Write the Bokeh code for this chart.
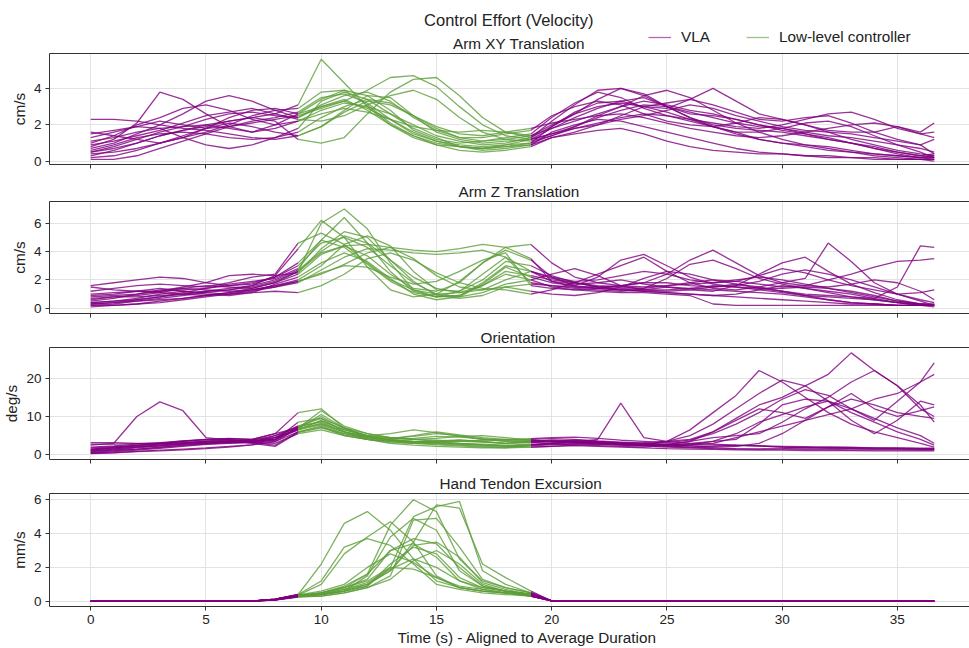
from bokeh.plotting import figure
from bokeh.models import Range1d, FixedTicker, Title, Legend, LegendItem, Label, LinearAxis
from bokeh.layouts import column
from bokeh.embed import file_html
from bokeh.resources import INLINE

# ---------------- data ----------------
time_s = [0, 1, 2, 3, 4, 5, 6, 7, 8, 9, 10, 11, 12, 13, 14, 15, 16, 17, 18, 19.1,
          20, 21, 22, 23, 24, 25, 26, 27, 28, 29, 30, 31, 32, 33, 34, 35, 36, 36.6]
llc_start = 9
llc_end = 19.1

arm_xy = [
    [0.8,1.2,2.1,3.8,3.4,2.6,1.9,1.6,2.0,2.6, 3.4,3.9,3.6,2.8,1.7,1.2,1.0,1.1,1.3,1.5, 2.4,3.2,3.8,3.5,2.9,2.5,2.2,1.9,1.6,1.2,1.0,0.8,0.6,0.5,0.4,0.3,0.2,0.2],
    [0.3,0.6,1.0,1.4,1.7,2.0,2.2,2.4,2.6,3.1, 5.6,4.3,3.0,2.0,1.3,0.9,0.8,0.7,0.9,1.2, 1.8,2.2,2.6,3.0,3.3,3.1,2.8,2.6,2.3,2.0,1.8,1.5,1.3,1.0,0.7,0.4,0.2,0.1],
    [1.5,1.7,1.9,2.2,2.0,1.8,1.9,2.1,2.3,2.5, 2.9,3.3,3.9,4.6,4.7,4.1,3.0,2.0,1.4,1.2, 1.5,1.9,2.4,2.8,3.1,3.0,2.7,2.4,2.1,1.9,1.8,1.6,1.4,1.3,1.1,0.9,0.7,0.5],
    [0.5,0.7,1.0,1.4,1.7,1.9,2.2,2.4,2.2,1.2, 1.0,1.3,2.6,3.8,4.5,4.6,3.6,2.4,1.6,1.3, 1.9,2.6,3.4,4.0,3.7,3.0,2.6,2.5,2.3,2.0,1.7,1.5,1.2,1.0,0.8,0.5,0.3,0.4],
    [2.3,2.3,2.2,2.0,1.8,1.7,1.5,1.3,1.2,1.4, 1.9,2.8,3.6,3.5,2.5,1.6,1.2,1.0,1.1,1.2, 1.5,1.8,2.1,2.4,2.6,2.5,2.3,2.1,1.9,1.8,2.0,2.3,2.6,2.7,2.3,1.8,1.5,1.3],
    [0.1,0.1,0.3,0.7,1.1,1.5,1.9,2.2,2.4,2.7, 3.5,3.7,3.2,2.3,1.5,1.1,0.9,0.8,0.9,1.0, 1.4,1.9,2.5,3.0,3.6,3.9,3.5,2.8,2.1,1.6,1.2,0.9,0.7,0.5,0.3,0.2,0.1,0.1],
    [1.0,1.4,2.0,2.4,2.9,3.1,2.8,2.3,2.0,2.2, 2.8,3.2,3.0,2.6,2.0,1.4,1.1,0.9,1.0,1.3, 2.2,3.1,3.9,4.0,3.6,3.0,2.4,1.9,1.5,1.2,1.0,0.9,0.8,0.6,0.4,0.3,0.2,0.3],
    [0.6,0.9,1.3,1.5,1.6,1.5,1.3,1.2,1.3,1.6, 2.4,3.0,3.4,3.2,2.5,1.8,1.3,1.1,1.2,1.4, 2.0,2.6,3.0,3.2,3.0,2.7,2.3,1.9,1.6,1.6,1.8,2.1,2.2,1.9,1.4,0.9,0.5,0.2],
    [1.3,1.6,1.9,1.8,1.3,0.9,0.7,0.9,1.3,1.8, 3.3,3.8,3.4,2.6,1.8,1.3,0.8,0.6,0.7,0.9, 1.6,2.0,2.3,2.2,1.9,1.6,1.3,1.0,0.7,0.5,0.4,0.3,0.2,0.2,0.1,0.1,0.1,0.0],
    [0.4,0.5,0.7,1.0,1.3,1.6,2.0,2.5,2.8,2.9, 3.8,3.9,3.1,2.1,1.4,1.0,0.8,0.7,0.8,1.0, 1.9,2.7,3.2,3.3,3.0,2.9,3.4,4.0,3.3,2.6,2.3,2.0,1.7,1.6,1.6,1.9,1.5,1.6],
    [0.9,1.1,1.4,1.7,2.1,2.5,2.7,2.9,2.6,2.3, 2.2,2.5,3.1,3.6,3.9,3.4,2.4,1.6,1.2,1.1, 1.4,1.8,2.0,2.3,2.5,2.8,3.1,2.9,2.5,2.2,1.9,1.7,1.6,1.5,1.3,1.1,0.9,0.4],
    [1.6,1.4,1.2,1.0,1.3,1.8,2.4,2.8,2.9,2.6, 3.0,3.3,2.9,2.3,1.6,1.1,0.8,0.7,0.8,0.9, 1.3,1.6,2.0,2.5,3.0,3.2,3.4,3.1,2.7,2.3,2.2,2.4,2.5,2.1,1.6,1.2,0.9,1.2],
    [0.2,0.3,0.6,1.0,1.4,1.8,2.1,1.9,1.6,1.4, 1.9,2.7,3.3,3.1,2.5,1.9,1.5,1.4,1.6,1.8, 2.1,2.3,2.5,2.6,2.4,2.1,1.8,1.6,1.4,1.3,1.4,1.6,1.8,2.0,2.1,1.9,1.6,2.1],
    [0.7,1.0,1.5,2.0,2.6,3.3,3.6,3.3,2.8,2.4, 3.0,3.4,2.8,2.0,1.4,0.9,0.6,0.5,0.6,0.8, 1.3,1.5,1.7,1.8,1.5,1.1,0.8,0.6,0.5,0.4,0.4,0.3,0.3,0.2,0.2,0.1,0.1,0.1],
    [0.5,0.8,1.2,1.6,1.9,2.3,2.6,2.7,2.5,2.4, 3.1,3.6,3.8,3.3,2.4,1.7,1.3,1.3,1.5,1.7, 2.5,3.0,3.3,3.1,2.6,2.2,2.0,1.9,2.1,2.4,2.3,2.0,1.6,1.2,0.9,0.6,0.4,0.3],
    [1.1,1.3,1.6,1.8,1.9,2.0,1.8,1.6,1.8,2.2, 2.6,2.9,2.7,2.3,1.9,1.7,1.6,1.7,1.6,1.4, 1.8,2.4,2.9,3.3,3.5,3.0,2.4,2.0,1.8,1.7,1.6,1.4,1.2,1.0,0.7,0.5,0.3,0.2],
]

arm_z = [
    [0.3,0.4,0.6,0.8,1.0,1.2,1.3,1.5,1.9,2.6, 6.0,7.0,5.6,3.2,1.3,0.8,1.2,2.4,3.6,1.8, 1.6,1.4,1.3,1.2,1.3,1.5,1.4,1.3,1.2,1.1,1.0,0.8,0.6,0.4,0.3,0.2,0.2,0.2],
    [1.6,1.8,2.0,2.2,2.1,1.8,1.6,1.7,2.2,3.0, 4.6,5.0,4.3,3.0,1.8,1.0,0.8,1.1,1.7,2.0, 2.4,2.8,2.3,1.6,1.3,1.2,1.3,1.5,1.7,1.5,1.2,0.9,0.6,0.4,0.3,0.2,0.2,0.2],
    [0.1,0.2,0.3,0.5,0.7,0.9,1.1,1.4,1.8,2.4, 3.8,4.4,4.5,4.3,4.1,4.0,4.2,4.5,4.3,4.5, 3.2,2.2,1.8,1.6,1.5,1.6,1.8,2.0,1.9,1.7,1.5,1.6,2.0,2.4,2.9,3.3,3.4,3.5],
    [0.8,0.9,1.0,1.2,1.5,1.8,2.3,2.4,2.3,2.5, 4.2,5.4,5.0,3.4,1.9,0.9,0.7,0.9,1.5,1.2, 1.0,0.9,1.1,1.5,2.1,2.6,2.4,2.0,1.7,1.4,1.2,1.0,0.9,0.8,0.6,0.4,0.2,0.1],
    [0.5,0.7,1.0,1.3,1.4,1.3,1.2,1.3,1.6,2.0, 3.0,4.5,5.1,4.4,2.6,1.3,1.2,2.0,3.3,3.0, 2.3,1.8,1.5,1.4,1.3,1.3,1.4,1.6,1.5,1.3,1.1,0.9,0.8,0.7,0.6,0.4,0.3,0.3],
    [0.2,0.3,0.5,0.7,0.9,1.1,1.3,1.6,2.3,4.2, 6.2,5.0,2.9,1.3,0.8,1.0,1.9,3.2,4.1,3.4, 2.2,1.6,1.4,1.3,1.4,1.6,1.7,1.8,2.0,2.2,2.0,1.7,1.4,1.1,0.8,0.5,0.3,0.2],
    [1.0,1.1,1.2,1.2,1.3,1.4,1.6,1.8,2.2,3.2, 4.8,4.3,3.1,1.9,1.1,0.8,0.9,1.8,3.0,2.6, 1.9,1.7,1.8,2.0,1.7,1.5,1.3,1.2,1.6,2.4,3.2,3.6,2.6,1.7,1.1,0.6,0.3,0.2],
    [0.4,0.5,0.6,0.8,1.1,1.4,1.7,1.9,2.1,2.8, 4.8,6.4,4.6,2.6,1.2,0.8,0.9,1.6,2.6,2.3, 2.0,1.8,1.6,1.5,1.4,2.1,3.1,3.4,2.8,2.1,1.7,1.4,1.2,1.0,0.7,0.4,0.2,0.2],
    [1.5,1.3,1.2,1.1,1.0,0.9,1.0,1.3,1.6,1.9, 2.4,3.1,3.9,4.3,3.5,2.3,1.5,1.3,1.5,1.7, 1.6,1.5,1.4,1.3,1.2,1.1,1.0,0.9,0.8,0.7,0.6,0.5,0.4,0.3,0.3,0.2,0.2,0.2],
    [0.6,0.8,0.9,1.1,1.4,1.6,1.5,1.4,1.8,2.6, 3.9,4.4,3.7,2.4,1.4,1.2,1.8,3.2,4.3,3.5, 1.9,1.5,1.5,1.6,1.8,1.8,1.6,1.5,1.6,1.9,2.4,2.7,2.4,2.0,1.5,1.0,0.5,0.2],
    [0.3,0.4,0.5,0.6,0.7,0.9,1.1,1.3,1.5,1.8, 2.7,3.6,4.2,4.1,3.9,3.8,3.9,4.1,3.6,2.6, 2.2,1.9,2.0,2.3,2.6,2.4,2.0,1.8,1.9,2.3,2.8,2.5,2.0,1.6,1.3,1.0,1.1,1.3],
    [1.2,1.4,1.6,1.7,1.6,1.5,1.8,2.2,2.4,4.6, 5.3,4.5,3.2,2.0,1.3,1.0,1.1,1.6,2.4,2.0, 1.5,1.3,1.2,1.1,1.1,1.0,0.9,0.3,0.2,0.2,0.2,0.2,0.2,0.2,0.2,0.2,0.2,0.2],
    [0.2,0.2,0.3,0.4,0.6,0.8,1.0,1.1,1.2,1.1, 1.6,2.4,3.5,3.9,3.4,2.5,1.8,1.4,1.3,1.0, 1.3,1.8,2.4,3.0,3.6,2.6,1.8,1.4,1.3,1.5,1.8,2.1,4.6,3.3,1.8,1.0,0.6,0.4],
    [0.9,1.0,1.2,1.4,1.2,1.0,0.9,1.1,1.7,2.2, 3.2,3.9,3.3,2.1,1.0,0.6,0.8,1.7,2.9,2.2, 1.8,1.6,2.2,3.4,3.8,3.0,2.2,1.7,1.5,1.4,1.4,1.5,1.4,1.2,0.9,0.5,0.3,0.2],
    [0.4,0.5,0.7,1.0,1.2,1.1,1.0,1.2,1.5,1.9, 2.5,3.0,2.9,2.2,1.7,1.9,2.6,3.4,3.9,1.6, 1.4,1.3,1.4,1.6,1.8,2.4,3.4,4.1,3.2,2.3,1.8,1.6,1.5,1.7,2.0,1.8,1.2,0.6],
    [0.7,0.8,0.8,0.9,1.0,1.2,1.4,1.6,2.0,2.7, 4.0,5.1,4.6,3.4,2.2,1.4,1.1,1.3,2.0,2.6, 2.1,1.8,1.5,1.3,1.2,1.1,1.0,0.9,1.0,1.3,1.6,1.4,1.1,0.8,0.7,1.5,4.4,4.3],
]

orientation = [
    [2.5,3.0,10.0,13.8,11.5,4.5,3.8,3.5,4.5,6.5, 9.0,6.5,5.0,4.5,4.0,3.8,3.5,3.3,3.0,3.2, 3.5,3.6,3.4,3.2,3.0,2.8,2.6,2.5,2.4,2.3,2.2,2.1,2.0,1.9,1.8,1.8,1.7,1.7],
    [1.0,1.5,2.0,2.5,3.0,3.3,3.5,3.8,5.0,7.0, 11.5,7.5,5.5,4.5,4.0,3.5,3.0,2.8,2.5,2.8, 3.0,3.3,4.0,13.5,4.5,3.5,3.0,2.8,2.5,2.3,2.0,1.9,1.8,1.7,1.6,1.6,1.5,1.5],
    [0.3,0.5,0.8,1.0,1.3,1.6,2.0,2.6,4.5,7.5, 8.5,6.0,4.5,3.8,3.4,3.2,3.0,2.6,2.3,2.6, 3.0,3.2,3.3,3.0,2.8,3.5,5.0,8.0,12.0,16.0,19.5,18.0,14.0,11.0,8.5,6.0,4.0,2.5],
    [1.5,2.0,2.5,3.0,3.5,4.0,4.2,4.0,5.5,11.0, 12.0,7.0,4.5,4.2,4.8,5.5,5.0,4.0,3.5,3.5, 3.8,3.6,3.3,3.0,3.2,3.5,4.0,6.0,9.0,12.0,11.0,9.5,12.5,16.0,12.0,10.0,11.5,12.5],
    [3.2,3.2,3.0,3.0,3.2,3.5,3.8,4.0,5.5,7.0, 10.5,7.0,5.0,4.0,3.5,3.3,3.5,3.8,4.0,4.2, 4.5,4.6,4.3,3.8,3.5,3.2,3.8,5.5,8.0,11.0,14.5,17.0,15.5,12.0,9.0,14.0,19.0,24.0],
    [0.8,1.2,1.5,2.0,2.5,3.0,3.3,3.2,2.5,6.0, 7.5,5.0,4.0,3.0,2.5,2.2,2.0,1.8,1.8,2.5, 3.0,3.2,3.0,2.8,2.5,2.3,2.0,1.8,1.6,1.5,1.5,1.4,1.4,1.3,1.3,1.3,1.2,1.2],
    [1.2,1.8,2.4,3.0,3.6,4.0,4.3,4.0,4.5,6.8, 8.0,6.0,4.8,4.2,5.0,6.0,5.2,4.5,4.0,3.8, 3.5,3.8,3.5,3.0,2.6,2.8,3.5,4.5,5.0,5.5,8.5,12.0,15.0,19.0,22.0,18.0,13.0,8.5],
    [2.0,2.3,2.8,3.2,3.6,3.9,4.0,3.5,3.8,7.2, 8.8,6.5,5.0,5.5,6.5,5.8,4.8,4.0,3.6,3.6, 3.5,3.3,3.0,2.7,2.5,2.3,2.5,3.0,4.5,6.0,7.5,9.0,10.5,12.0,14.5,16.0,19.0,21.0],
    [1.0,1.3,1.8,2.3,2.8,3.0,3.2,3.4,4.0,6.5, 7.8,5.5,4.2,3.8,3.5,3.2,2.8,2.5,2.3,2.6, 2.8,2.6,2.4,2.2,2.0,2.5,3.5,6.0,9.5,13.0,15.0,18.0,21.0,26.6,22.0,18.0,12.0,10.0],
    [0.5,0.8,1.2,1.7,2.2,2.7,3.0,3.2,5.0,7.5, 9.5,6.0,4.0,3.2,3.0,3.3,3.8,3.5,3.0,3.3, 3.4,3.2,3.0,2.7,2.5,3.5,6.5,11.0,15.5,22.0,19.0,15.0,11.0,8.0,6.0,4.5,3.0,2.0],
    [1.5,1.8,2.2,2.6,3.0,3.3,3.5,3.3,3.0,5.5, 6.5,5.0,4.0,3.5,3.2,3.0,2.8,2.5,2.2,2.0, 2.2,2.5,2.7,2.5,2.3,2.0,1.8,1.6,1.5,1.5,1.6,1.8,2.0,1.9,1.8,1.7,1.6,1.6],
    [0.6,1.0,1.4,1.9,2.4,2.8,3.1,3.3,3.5,6.0, 7.2,5.5,4.5,4.0,4.3,4.8,4.6,4.2,3.8,4.0, 4.2,4.0,3.6,3.3,3.0,2.6,2.3,2.0,2.2,3.0,5.5,9.0,12.5,14.5,13.0,11.0,10.0,9.5],
    [2.8,2.8,2.9,3.0,3.1,3.3,3.5,3.7,4.0,6.8, 8.2,6.0,4.6,3.8,3.2,2.8,2.5,2.2,2.0,2.3, 2.6,2.8,3.0,2.8,2.5,2.2,2.0,2.2,2.5,2.3,2.0,1.8,1.7,1.6,1.5,1.5,1.4,1.4],
    [1.8,2.1,2.4,2.8,3.2,3.6,3.9,3.0,2.2,5.8, 7.0,5.2,4.0,3.5,3.3,3.6,3.9,3.4,3.0,3.4, 3.6,3.4,3.2,3.0,2.8,2.7,2.6,3.5,5.5,8.5,10.5,12.5,14.0,12.0,9.5,7.0,5.0,3.0],
    [0.4,0.6,0.9,1.2,1.5,1.8,2.2,2.6,3.4,7.0, 10.0,6.8,4.8,3.5,3.0,2.6,2.3,2.0,1.8,2.0, 2.2,2.4,2.2,2.0,1.8,1.6,1.5,1.4,1.3,1.2,1.2,1.1,1.1,1.1,1.0,1.0,1.0,1.0],
    [1.3,1.6,2.0,2.3,2.7,3.1,3.4,3.6,3.9,8.5, 9.5,7.0,5.5,4.5,4.0,4.3,4.8,5.0,4.5,3.8, 3.4,3.0,2.8,2.5,2.3,2.5,3.0,3.5,4.0,8.0,13.0,14.5,14.0,9.0,5.5,9.0,14.0,13.0],
]

hand_tendon = [
    [0,0,0,0,0,0,0,0.01,0.12,0.40, 2.2,4.6,5.3,4.2,2.5,1.2,0.8,0.6,0.5,0.4, 0.02,0,0,0,0,0,0,0,0,0,0,0,0,0,0,0,0,0],
    [0,0,0,0,0,0,0,0.01,0.10,0.35, 0.5,0.8,1.6,4.5,6.0,5.3,2.5,1.2,0.8,0.5, 0.02,0,0,0,0,0,0,0,0,0,0,0,0,0,0,0,0,0],
    [0,0,0,0,0,0,0,0.01,0.08,0.30, 0.4,0.6,0.9,2.0,5.0,5.6,5.9,1.8,1.0,0.5, 0.02,0,0,0,0,0,0,0,0,0,0,0,0,0,0,0,0,0],
    [0,0,0,0,0,0,0,0.01,0.10,0.32, 0.45,0.7,1.0,1.8,3.5,5.7,5.5,2.2,1.4,0.6, 0.02,0,0,0,0,0,0,0,0,0,0,0,0,0,0,0,0,0],
    [0,0,0,0,0,0,0,0.01,0.12,0.38, 0.4,0.6,1.5,3.8,4.9,4.2,1.8,0.9,0.6,0.4, 0.02,0,0,0,0,0,0,0,0,0,0,0,0,0,0,0,0,0],
    [0,0,0,0,0,0,0,0.01,0.11,0.36, 1.0,2.8,3.8,4.7,3.5,1.5,0.8,0.6,0.5,0.3, 0.02,0,0,0,0,0,0,0,0,0,0,0,0,0,0,0,0,0],
    [0,0,0,0,0,0,0,0.01,0.13,0.40, 1.2,3.2,3.7,3.3,2.2,1.0,0.7,0.5,0.4,0.3, 0.02,0,0,0,0,0,0,0,0,0,0,0,0,0,0,0,0,0],
    [0,0,0,0,0,0,0,0.01,0.09,0.28, 0.5,0.8,1.3,3.0,3.4,2.6,1.2,0.7,0.5,0.3, 0.02,0,0,0,0,0,0,0,0,0,0,0,0,0,0,0,0,0],
    [0,0,0,0,0,0,0,0.01,0.08,0.26, 0.4,0.6,0.9,2.2,3.2,2.8,1.4,0.8,0.6,0.4, 0.02,0,0,0,0,0,0,0,0,0,0,0,0,0,0,0,0,0],
    [0,0,0,0,0,0,0,0.01,0.10,0.33, 0.5,0.9,1.6,3.0,3.7,3.4,2.0,0.9,0.6,0.4, 0.02,0,0,0,0,0,0,0,0,0,0,0,0,0,0,0,0,0],
    [0,0,0,0,0,0,0,0.01,0.12,0.37, 0.6,1.0,2.0,2.8,2.3,1.4,0.8,0.6,0.5,0.3, 0.02,0,0,0,0,0,0,0,0,0,0,0,0,0,0,0,0,0],
    [0,0,0,0,0,0,0,0.01,0.07,0.25, 0.3,0.5,0.8,1.3,2.4,3.0,2.2,1.0,0.6,0.4, 0.02,0,0,0,0,0,0,0,0,0,0,0,0,0,0,0,0,0],
    [0,0,0,0,0,0,0,0.01,0.09,0.30, 0.4,0.7,1.1,1.9,2.5,2.0,1.2,0.8,0.6,0.4, 0.02,0,0,0,0,0,0,0,0,0,0,0,0,0,0,0,0,0],
    [0,0,0,0,0,0,0,0.01,0.08,0.27, 0.3,0.5,0.8,1.5,4.8,4.9,3.2,1.3,0.8,0.5, 0.02,0,0,0,0,0,0,0,0,0,0,0,0,0,0,0,0,0],
    [0,0,0,0,0,0,0,0.01,0.11,0.34, 0.5,0.8,1.2,2.0,1.9,1.4,0.9,0.7,0.5,0.3, 0.02,0,0,0,0,0,0,0,0,0,0,0,0,0,0,0,0,0],
    [0,0,0,0,0,0,0,0.01,0.10,0.31, 0.4,0.6,1.0,1.8,3.3,3.5,2.6,1.1,0.7,0.4, 0.02,0,0,0,0,0,0,0,0,0,0,0,0,0,0,0,0,0],
]

suptitle = "Control Effort (Velocity)"
panel_titles = ["Arm XY Translation", "Arm Z Translation", "Orientation", "Hand Tendon Excursion"]
panel_units = ["cm/s", "cm/s", "deg/s", "mm/s"]
panel_yticks = [[0, 2, 4], [0, 2, 4, 6], [0, 10, 20], [0, 2, 4, 6]]
x_ticks = [0, 5, 10, 15, 20, 25, 30, 35]
x_label = "Time (s) - Aligned to Average Duration"
legend_labels = ["VLA", "Low-level controller"]

# ---------------- styling ----------------
FONT = "Liberation Sans"
PURPLE = "#800080"
GREEN = "#5c9e38"
AXIS_C = "#333333"
GRID_C = "#e3e3e3"
TXT_C = "#222222"

FRAME_L = 48
X_RANGE = (-1.79, 38.13)
Y_RANGES = [(-0.18, 5.92), (-0.37, 7.53), (-1.23, 28.0), (-0.31, 6.37)]
HEADER_H = 53
HEIGHTS = [123, 149, 146, 177]
TOPS = [0, 25, 22, 22]
BOTTOMS = [12, 12, 12, 42]
TITLE_X = [452, 457, 479, 438]


def split(trials):
    vx, vy, lx, ly = [], [], [], []
    for tr in trials:
        assert len(tr) == len(time_s)
        a = [(t, v) for t, v in zip(time_s, tr) if t <= llc_start]
        b = [(t, v) for t, v in zip(time_s, tr) if llc_start <= t <= llc_end]
        c = [(t, v) for t, v in zip(time_s, tr) if t >= llc_end]
        for seg in (a, c):
            vx.append([q[0] for q in seg]); vy.append([q[1] for q in seg])
        lx.append([q[0] for q in b]); ly.append([q[1] for q in b])
    return vx, vy, lx, ly


# ---- header: suptitle, first panel title and legend (frame is aligned to the panels' frames) ----
header = figure(width=969, height=HEADER_H, x_range=Range1d(FRAME_L, 969), y_range=Range1d(HEADER_H, 0),
                output_backend="svg", toolbar_location=None, title=None,
                x_axis_type=None, y_axis_type=None,
                min_border_left=FRAME_L, min_border_right=0, min_border_top=0, min_border_bottom=0)
header.outline_line_color = None
header.background_fill_color = "white"
header.border_fill_color = "white"
hx, hy, hlx, hly = split(arm_xy)
leg_vla = header.multi_line(hx, hy, line_color=PURPLE, line_alpha=0.6, line_width=1.3, visible=False)
leg_llc = header.multi_line(hlx, hly, line_color=GREEN, line_alpha=0.6, line_width=1.3, visible=False)
header.add_layout(Label(x=423, y=19.7, text=suptitle, text_font=FONT, text_font_size="16.5px",
                        text_color=TXT_C, text_baseline="middle", text_align="left"))
header.add_layout(Label(x=TITLE_X[0], y=43.3, text=panel_titles[0], text_font=FONT, text_font_size="15.3px",
                        text_color=TXT_C, text_baseline="middle", text_align="left"))
legend = Legend(items=[LegendItem(label=legend_labels[0], renderers=[leg_vla]),
                       LegendItem(label=legend_labels[1], renderers=[leg_llc])],
                location=(647 - FRAME_L, 6), orientation="horizontal", glyph_width=23, glyph_height=20,
                label_standoff=10, spacing=36, padding=0, margin=0, border_line_color=None,
                background_fill_alpha=0, label_text_font=FONT, label_text_font_size="15.3px",
                label_text_color=TXT_C, label_height=20, inactive_fill_alpha=0, click_policy="none")
header.add_layout(legend)

figs = [header]
all_data = [arm_xy, arm_z, orientation, hand_tendon]
for i in range(4):
    p = figure(width=969, height=HEIGHTS[i], x_range=Range1d(*X_RANGE), y_range=Range1d(*Y_RANGES[i]),
               output_backend="svg", toolbar_location=None, title=None,
               min_border_left=FRAME_L, min_border_right=0, min_border_top=TOPS[i], min_border_bottom=BOTTOMS[i])
    p.background_fill_color = "white"
    p.border_fill_color = "white"
    p.outline_line_color = None

    vx, vy, lx, ly = split(all_data[i])
    p.multi_line(vx, vy, line_color=PURPLE, line_alpha=0.8, line_width=1.3)
    p.multi_line(lx, ly, line_color=GREEN, line_alpha=0.8, line_width=1.3)

    bottom = p.below[0]
    left = p.left[0]
    bottom.ticker = FixedTicker(ticks=x_ticks)
    left.ticker = FixedTicker(ticks=panel_yticks[i])
    for ax in (bottom, left):
        ax.axis_line_color = AXIS_C
        ax.major_tick_line_color = AXIS_C
        ax.major_tick_out = 4
        ax.major_tick_in = 0
        ax.minor_tick_line_color = None
        ax.major_label_text_font = FONT
        ax.major_label_text_font_size = "13.5px"
        ax.major_label_text_color = TXT_C
    bottom.major_label_standoff = 4
    left.major_label_standoff = 4
    left.axis_label = panel_units[i]
    left.axis_label_text_font = FONT
    left.axis_label_text_font_size = "15.3px"
    left.axis_label_text_font_style = "normal"
    left.axis_label_text_color = TXT_C
    left.axis_label_standoff = 3
    if i < 3:
        bottom.major_label_overrides = {t: "" for t in x_ticks}
    p.xgrid.grid_line_color = GRID_C
    p.ygrid.grid_line_color = GRID_C

    # top spine only (the reference shows no right spine)
    top = LinearAxis(ticker=FixedTicker(ticks=[]), axis_line_color=AXIS_C, major_tick_out=0,
                     major_tick_in=0, minor_tick_out=0, minor_tick_line_color=None,
                     major_label_standoff=0, major_label_text_font_size="0px")
    p.add_layout(top, "above")

    if i > 0:
        p.add_layout(Title(text=panel_titles[i], align="left", offset=TITLE_X[i] - FRAME_L, standoff=3,
                           text_font=FONT, text_font_size="15.3px", text_font_style="normal",
                           text_color=TXT_C), "above")
    if i == 3:
        p.add_layout(Title(text=x_label, align="left", offset=396 - FRAME_L,
                           standoff=0, text_font=FONT, text_font_size="15.3px", text_font_style="normal",
                           text_color=TXT_C), "below")
    figs.append(p)

layout = column(*figs, spacing=0)
open("out.html", "w").write(file_html(layout, INLINE))
